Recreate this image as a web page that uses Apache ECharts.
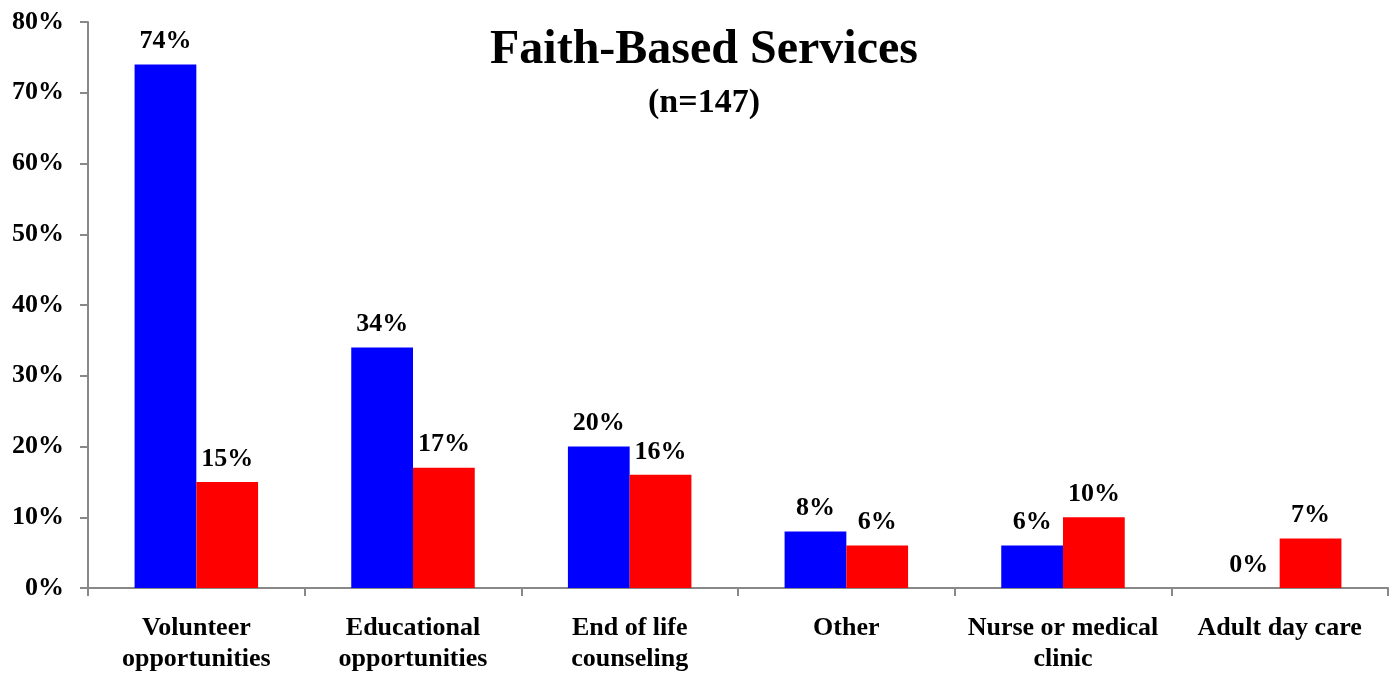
<!DOCTYPE html>
<html>
<head>
<meta charset="utf-8">
<script src="https://cdn.jsdelivr.net/npm/echarts@6/dist/echarts.min.js"></script>
<style>html,body{margin:0;padding:0;background:#fff}#c{width:1395px;height:675px}</style>
</head>
<body>
<div id="c"></div>
<script>
var categories = ['Volunteer\nopportunities', 'Educational\nopportunities', 'End of life\ncounseling', 'Other', 'Nurse or medical\nclinic', 'Adult day care'];
var seriesBlue = [74, 34, 20, 8, 6, 0];
var seriesRed = [15, 17, 16, 6, 10, 7];
var yTicks = [0, 10, 20, 30, 40, 50, 60, 70, 80];

var font = '"Liberation Serif", "Times New Roman", serif';
var chart = echarts.init(document.getElementById('c'));
var labelStyle = {
  show: true, position: 'top', distance: 10,
  formatter: '{c}%', fontFamily: font, fontWeight: 'bold', fontSize: 26, color: '#000'
};
chart.setOption({
  animation: false,
  title: {
    text: 'Faith-Based Services',
    subtext: '(n=147)',
    left: 699, top: 22, textAlign: 'center',
    textStyle: { fontFamily: font, fontWeight: 'bold', fontSize: 48, color: '#000' },
    subtextStyle: { fontFamily: font, fontWeight: 'bold', fontSize: 34, color: '#000' },
    itemGap: 11
  },
  grid: { left: 88, right: 7, top: 22, bottom: 86, containLabel: false },
  xAxis: {
    type: 'category', data: categories,
    axisLine: { lineStyle: { color: '#888', width: 2 } },
    axisTick: { show: true, length: 8, lineStyle: { color: '#888', width: 2 } },
    axisLabel: { fontFamily: font, fontWeight: 'bold', fontSize: 26, color: '#000', margin: 25, lineHeight: 31, interval: 0 }
  },
  yAxis: {
    type: 'value', min: yTicks[0], max: yTicks[yTicks.length - 1], interval: 10,
    axisLine: { show: true, lineStyle: { color: '#888', width: 2 } },
    axisTick: { show: true, length: 8, lineStyle: { color: '#888', width: 2 } },
    splitLine: { show: false },
    axisLabel: { formatter: '{value}%', fontFamily: font, fontWeight: 'bold', fontSize: 26, color: '#000', margin: 24 }
  },
  series: [
    { type: 'bar', data: seriesBlue, itemStyle: { color: '#0000FF' }, barGap: '0%', barCategoryGap: '43%', label: labelStyle },
    { type: 'bar', data: seriesRed, itemStyle: { color: '#FF0000' }, barGap: '0%', barCategoryGap: '43%', label: labelStyle }
  ]
});
</script>
</body>
</html>
